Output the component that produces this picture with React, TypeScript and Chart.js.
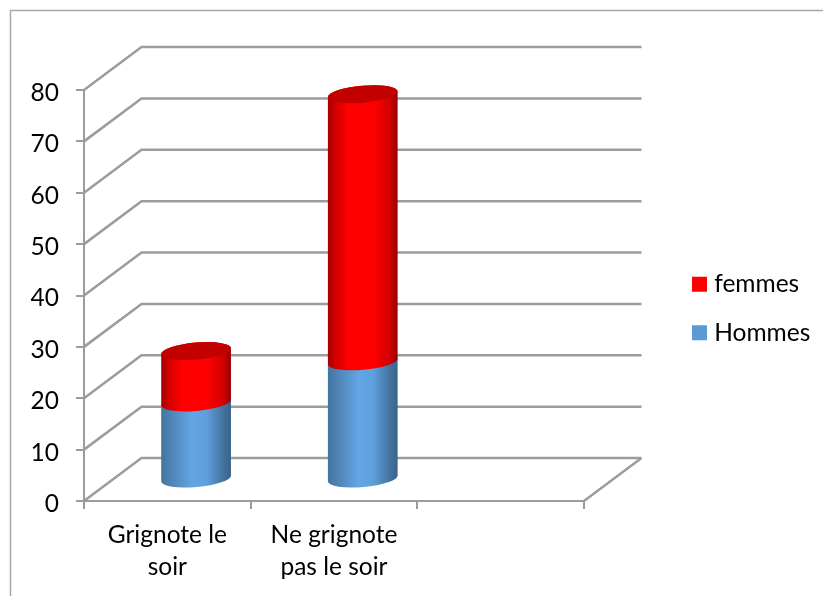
import React, { useEffect, useRef } from "react";
import { Chart, registerables } from "chart.js";

Chart.register(...registerables);

const categories = [["Grignote le", "soir"], ["Ne grignote", "pas le soir"], ""];
const hommes = [15, 23, null];
const femmes = [10, 52, null];
const yTicks = [0, 10, 20, 30, 40, 50, 60, 70, 80];

const GRID = "#9c9c9c";
const DEPTH_X = 57.5;
const DEPTH_Y = 43;
const RY = 8.5;
const TILT = (-5 * Math.PI) / 180;

const sideStops: Record<string, [number, string][]> = {
  red: [[0, "#a30000"], [0.12, "#d60000"], [0.3, "#ff0000"], [0.65, "#ff0000"], [0.88, "#d40000"], [1, "#960000"]],
  blue: [[0, "#44749f"], [0.15, "#5085b6"], [0.45, "#62a6e6"], [0.65, "#5f9fdc"], [0.88, "#44749f"], [1, "#3a6289"]],
};

function cylinder(ctx: CanvasRenderingContext2D, cx: number, rx: number, top: number, bottom: number, kind: string, cap: boolean) {
  const g = ctx.createLinearGradient(cx - rx, 0, cx + rx, 0);
  for (const [p, c] of sideStops[kind]) g.addColorStop(p, c);
  ctx.beginPath();
  ctx.ellipse(cx, bottom, rx, RY, TILT, Math.PI, 0, true);
  ctx.ellipse(cx, top, rx, RY, TILT, 0, Math.PI, true);
  ctx.closePath();
  ctx.fillStyle = g;
  ctx.fill();
  if (cap) {
    ctx.beginPath();
    ctx.ellipse(cx, top, rx, RY, TILT, 0, Math.PI * 2);
    ctx.fillStyle = "#c20000";
    ctx.fill();
  }
}

const scene3d = {
  id: "scene3d",
  afterLayout(chart: any) {
    const lg = chart.legend;
    const pad = lg.options.labels.padding;
    const w = lg.width;
    const h = lg.height;
    lg.left = 697 - pad;
    lg.right = lg.left + w;
    lg.top = 272 - pad;
    lg.bottom = lg.top + h;
  },
  beforeDraw(chart: any) {
    const { ctx, width, height } = chart;
    ctx.save();
    ctx.strokeStyle = "#a8a8a8";
    ctx.lineWidth = 1.5;
    ctx.beginPath();
    ctx.moveTo(10.5, height);
    ctx.lineTo(10.5, 10.5);
    ctx.lineTo(width, 10.5);
    ctx.stroke();
    ctx.restore();
  },
  beforeDatasetsDraw(chart: any) {
    const { ctx, chartArea, scales } = chart;
    const { left, right } = chartArea;
    ctx.save();
    ctx.strokeStyle = GRID;
    ctx.lineWidth = 2.5;
    ctx.beginPath();
    for (const v of yTicks) {
      const y = scales.y.getPixelForValue(v);
      ctx.moveTo(left, y);
      ctx.lineTo(left + DEPTH_X, y - DEPTH_Y);
      ctx.lineTo(right + DEPTH_X, y - DEPTH_Y);
    }
    const y0 = scales.y.getPixelForValue(0);
    ctx.moveTo(right, y0);
    ctx.lineTo(right + DEPTH_X, y0 - DEPTH_Y);
    ctx.stroke();
    ctx.restore();
  },
  beforeDatasetDraw() {
    return false;
  },
  afterDatasetsDraw(chart: any) {
    const { ctx } = chart;
    ctx.save();
    const kinds = ["blue", "red"];
    chart.data.datasets.forEach((_: any, di: number) => {
      chart.getDatasetMeta(di).data.forEach((bar: any, i: number) => {
        const raw = chart.data.datasets[di].data[i];
        if (raw == null) return;
        const p = bar.getProps(["x", "y", "base", "width"], true);
        cylinder(
          ctx,
          p.x + DEPTH_X / 2,
          p.width / 2,
          p.y - DEPTH_Y / 2,
          p.base - DEPTH_Y / 2,
          kinds[di],
          di === chart.data.datasets.length - 1
        );
      });
    });
    ctx.restore();
  },
};

export default function App() {
  const ref = useRef<HTMLCanvasElement>(null);
  useEffect(() => {
    const font = { family: "Lato, Carlito, sans-serif", size: 24.5 };
    const chart = new Chart(ref.current!, {
      type: "bar",
      data: {
        labels: categories as any,
        datasets: [
          { label: "Hommes", data: hommes, backgroundColor: "#5b9bd5", borderWidth: 0 },
          { label: "femmes", data: femmes, backgroundColor: "#ff0000", borderWidth: 0 },
        ],
      },
      options: {
        responsive: false,
        animation: false,
        layout: { padding: { left: 20, top: 90, right: 239, bottom: 0 } },
        datasets: { bar: { categoryPercentage: 1, barPercentage: 0.42 } },
        plugins: {
          tooltip: { enabled: false },
          legend: {
            position: "chartArea",
            align: "start",
            reverse: true,
            labels: {
              boxWidth: 5,
              boxHeight: 5,
              padding: 24,
              color: "#000",
              font: { ...font, lineHeight: "27px" },
              generateLabels(chart: any) {
                return Chart.defaults.plugins.legend.labels.generateLabels(chart).map((item: any) => ({
                  ...item,
                  strokeStyle: item.fillStyle,
                  lineWidth: 10,
                }));
              },
            },
          },
        },
        scales: {
          x: {
            stacked: true,
            grid: { drawOnChartArea: false, drawTicks: true, tickLength: 8, color: GRID, lineWidth: 2 },
            border: { color: GRID, width: 2 },
            ticks: {
              color: "#000",
              font: { ...font, lineHeight: "32px" },
              maxRotation: 0,
              minRotation: 0,
              autoSkip: false,
              padding: 10,
            },
            afterFit(s: any) {
              s.height = 596 - 501;
            },
          },
          y: {
            stacked: true,
            min: 0,
            max: 80,
            grid: { drawOnChartArea: false, drawTicks: true, tickLength: 8, color: GRID, lineWidth: 2 },
            border: { color: GRID, width: 2 },
            ticks: { color: "#000", font, stepSize: 10, padding: 17, labelOffset: 3 },
            afterFit(s: any) {
              s.width = 84 - 20;
            },
          },
        },
      },
      plugins: [scene3d],
    } as any);
    return () => chart.destroy();
  }, []);
  return (
    <canvas
      ref={ref}
      width={823}
      height={596}
      style={{ position: "absolute", left: 0, top: 0, display: "block", width: 823, height: 596 }}
    />
  );
}
